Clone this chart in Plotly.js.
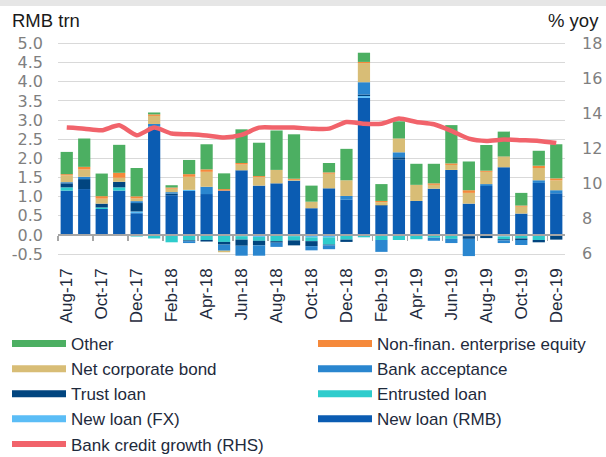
<!DOCTYPE html>
<html><head><meta charset="utf-8">
<script src="https://cdn.plot.ly/plotly-3.0.1.min.js"></script>
<style>
html,body{margin:0;padding:0;background:#fff;overflow:hidden;width:606px;height:457px;}
#band{position:absolute;left:0;top:0;width:606px;height:6px;background:#e6e6e6;z-index:5;}
#chart{width:606px;height:475px;}
</style>
</head><body><div id="band"></div><div id="chart"></div>
<script>
const months = ['Aug-17','Sep-17','Oct-17','Nov-17','Dec-17','Jan-18','Feb-18','Mar-18','Apr-18','May-18','Jun-18','Jul-18','Aug-18','Sep-18','Oct-18','Nov-18','Dec-18','Jan-19','Feb-19','Mar-19','Apr-19','May-19','Jun-19','Jul-19','Aug-19','Sep-19','Oct-19','Nov-19','Dec-19'];
const newLoanRMB = [1.16,1.20,0.68,1.16,0.57,2.83,1.04,1.15,1.07,1.16,1.69,1.29,1.35,1.42,0.70,1.22,0.92,3.58,0.76,1.97,0.89,1.21,1.70,0.82,1.28,1.77,0.56,1.36,1.09];
const newLoanFX = [0,0,0,0,0.045,0,0,0.03,0,0,-0.03,-0.05,0,-0.03,-0.06,-0.06,-0.02,0.05,0,0,-0.02,0,0,0,0,-0.04,0,0,0];
const entrustedLoan = [0.085,0,0.04,0.085,-0.04,-0.09,-0.19,-0.14,-0.13,-0.18,-0.09,-0.10,-0.16,-0.11,-0.10,-0.19,-0.10,-0.06,-0.13,-0.13,-0.09,-0.07,-0.10,-0.03,-0.01,-0.07,-0.09,-0.13,0];
const trustLoan = [0.105,0.26,0.10,0.145,0.22,0,0.04,-0.02,-0.04,-0.07,-0.16,-0.12,-0.04,-0.13,-0.13,-0.02,-0.06,0.04,0.02,0.06,0,0,0,-0.07,-0.07,-0.03,-0.04,-0.06,-0.12];
const bankAcceptance = [0.03,0.06,0,0,0.05,0.07,0.04,-0.05,0.19,-0.16,-0.26,-0.27,-0.11,0,-0.11,-0.10,0.10,0.32,-0.31,0.13,0,-0.08,-0.11,-0.45,0.05,-0.07,-0.13,0.07,0.08];
const netCorpBond = [0.18,0.19,0.13,0.105,0.07,0.21,0.09,0.34,0.39,-0.04,0.15,0.22,0.35,0.02,0.17,0.38,0.41,0.50,0.08,0.35,0.42,0.10,0.13,0.28,0.32,0.27,0.18,0.32,0.26];
const equity = [0.03,0.07,0.065,0.13,0.055,0.04,0.03,0.07,0.065,0.04,0.04,0.03,0,0.03,0,0.035,0,0.03,0.03,0.01,0,0.04,0.04,0.07,0.03,0.01,0.03,0.06,0.05];
const other = [0.58,0.74,0.59,0.73,0.74,0.05,0.06,0.37,0.655,0.41,0.88,0.87,1.03,1.16,0.42,0.245,0.82,0.24,0.44,0.45,0.55,0.51,1.00,0.75,0.67,0.65,0.33,0.39,0.89];
const creditGrowth = [13.18,13.12,13.03,13.31,12.74,13.18,12.84,12.80,12.73,12.61,12.76,13.18,13.18,13.18,13.12,13.12,13.50,13.40,13.40,13.70,13.50,13.37,12.99,12.55,12.42,12.50,12.46,12.42,12.30];
const leftTicks = [-0.5,0,0.5,1,1.5,2,2.5,3,3.5,4,4.5,5];
const rightTicks = [6,8,10,12,14,16,18];

const C = {
  rmb:'#0b5cb2', fx:'#5bbdf6', ent:'#2ecccc', trust:'#01457f', ba:'#2a86cf',
  bond:'#d8bd76', eq:'#f5893b', other:'#4caf62', line:'#f1636b'
};
const series = [
  {name:'New loan (RMB)', y:newLoanRMB, c:C.rmb, rank:8, lg:'legend2'},
  {name:'New loan (FX)', y:newLoanFX, c:C.fx, rank:4, lg:'legend'},
  {name:'Entrusted loan', y:entrustedLoan, c:C.ent, rank:7, lg:'legend2'},
  {name:'Trust loan', y:trustLoan, c:C.trust, rank:3, lg:'legend'},
  {name:'Bank acceptance', y:bankAcceptance, c:C.ba, rank:6, lg:'legend2'},
  {name:'Net corporate bond', y:netCorpBond, c:C.bond, rank:2, lg:'legend'},
  {name:'Non-finan. enterprise equity', y:equity, c:C.eq, rank:5, lg:'legend2'},
  {name:'Other', y:other, c:C.other, rank:1, lg:'legend'}
];
const traces = [];
series.forEach(s => traces.push({type:'bar', x:months, y:s.y, name:s.name, marker:{color:s.c, line:{width:0}}, showlegend:false, hoverinfo:'skip'}));
traces.push({type:'scatter', mode:'lines', x:months, y:creditGrowth, yaxis:'y2', name:'Bank credit growth (RHS)', line:{color:C.line, width:4.5, shape:'spline', smoothing:0.6}, showlegend:false, hoverinfo:'skip'});
series.forEach(s => traces.push({type:'scatter', mode:'lines', x:[null], y:[null], xaxis:'x2', name:s.name, line:{color:s.c, width:7}, legend:s.lg, legendrank:s.rank, showlegend:true, hoverinfo:'skip'}));
traces.push({type:'scatter', mode:'lines', x:[null], y:[null], xaxis:'x2', name:'Bank credit growth (RHS)', line:{color:C.line, width:6}, legend:'legend', legendrank:9, showlegend:true, hoverinfo:'skip'});

const H = 475;
const L0 = -0.6, L1 = 5.04, R0 = 5.73, R1 = 18.07;
const boundaries = months.map((m,i)=>i-0.5).filter((v,i)=>i%2===0);
const shownMonths = months.filter((m,i)=>i%2===0);
const gray = '#7f7f7f';
const txt = '#1e2a3c';
const legFont = {family:'Liberation Sans, Arial, sans-serif', size:17, color:txt};
const legY = (258-326)/216;
const layout = {
  width:606, height:H,
  margin:{l:58, r:41, t:42, b:H-258, pad:0, autoexpand:false},
  paper_bgcolor:'#fff', plot_bgcolor:'#fff',
  barmode:'relative', bargap:0.3,
  font:{family:'Liberation Sans, Arial, sans-serif', size:18, color:txt},
  showlegend:true,
  xaxis:{type:'category', categoryorder:'array', categoryarray:months, range:[-0.5,28.5], tickmode:'array', tickvals:shownMonths, ticktext:shownMonths, tickangle:-90, ticks:'', showline:false, showgrid:false, zeroline:false, automargin:false, tickfont:{family:'Liberation Sans, Arial, sans-serif', size:17, color:txt}, ticklabelstandoff:6, fixedrange:true},
  xaxis2:{overlaying:'x', anchor:'free', position:(0-L0)/(L1-L0), range:[-0.5,28.5], showline:true, linecolor:'#a6a6a6', linewidth:2, ticks:'outside', ticklen:5, tickwidth:1.5, tickcolor:'#a6a6a6', tickmode:'array', tickvals:boundaries, showticklabels:false, showgrid:false, zeroline:false, automargin:false, layer:'above traces', fixedrange:true},
  yaxis:{range:[L0,L1], tickmode:'array', tickvals:leftTicks, ticktext:leftTicks.map(v=>v.toFixed(1)), showgrid:true, gridcolor:'#d9d9d9', gridwidth:1, zeroline:false, showline:false, ticks:'', automargin:false, tickfont:{family:'DejaVu Sans, sans-serif', size:16, color:gray}, ticklabelstandoff:14, fixedrange:true},
  yaxis2:{overlaying:'y', side:'right', range:[R0,R1], tickmode:'array', tickvals:rightTicks, ticktext:rightTicks.map(String), showgrid:false, zeroline:false, showline:false, ticks:'', automargin:false, tickfont:{family:'DejaVu Sans, sans-serif', size:16, color:gray}, ticklabelstandoff:16, fixedrange:true},
  legend:{x:(7-58)/507, y:legY, xanchor:'left', yanchor:'top', orientation:'v', itemwidth:54, font:legFont, bgcolor:'rgba(0,0,0,0)', traceorder:'normal', tracegroupgap:0, itemclick:false, itemdoubleclick:false},
  legend2:{x:(313-58)/507, y:legY, xanchor:'left', yanchor:'top', orientation:'v', itemwidth:54, font:legFont, bgcolor:'rgba(0,0,0,0)', traceorder:'normal', tracegroupgap:0, itemclick:false, itemdoubleclick:false},
  annotations:[
    {text:'RMB trn', xref:'paper', yref:'paper', x:(10-58)/507, y:1+(42-21)/216, xanchor:'left', yanchor:'middle', showarrow:false, font:{family:'Liberation Sans, Arial, sans-serif', size:18.5, color:'#1a1a1a'}},
    {text:'% yoy', xref:'paper', yref:'paper', x:(601-58)/507, y:1+(42-21)/216, xanchor:'right', yanchor:'middle', showarrow:false, font:{family:'Liberation Sans, Arial, sans-serif', size:18.5, color:'#1a1a1a'}}
  ],
  hovermode:false
};
Plotly.newPlot('chart', traces, layout, {displayModeBar:false, staticPlot:true});
</script></body></html>
